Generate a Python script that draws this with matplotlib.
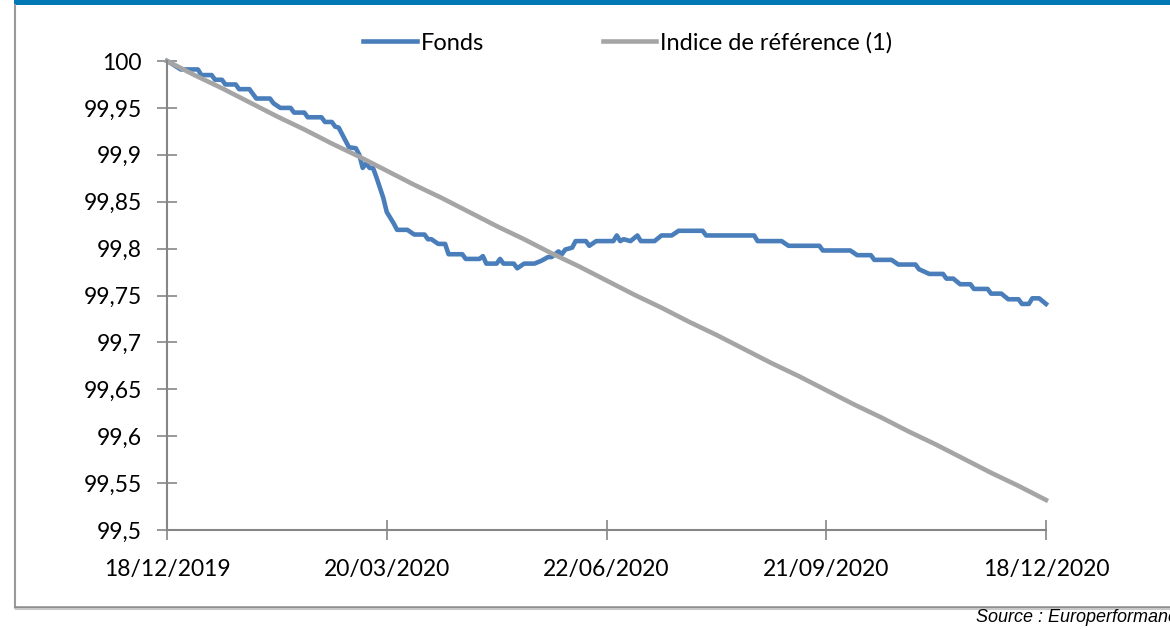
#!/usr/bin/env python3
import matplotlib
matplotlib.use('Agg')
import matplotlib.pyplot as plt
from matplotlib.lines import Line2D
from matplotlib.patches import Rectangle

# Fund (trading-day index, value) breakpoints
fund_idx = [0, 1, 4, 9, 10, 13, 14, 16, 17, 20, 21, 24, 25, 26, 30, 31, 33, 36,
            37, 40, 41, 45, 46, 48, 49, 50, 53, 55, 56, 57, 58, 59, 60, 61, 63,
            64, 66, 67, 70, 72, 75, 76, 77, 79, 81, 82, 86, 87, 91, 92, 93, 96,
            97, 98, 101, 102, 104, 107, 109, 111, 112, 114, 115, 116, 118, 119,
            122, 123, 125, 130, 131, 132, 133, 135, 137, 138, 142, 144, 147, 149,
            156, 157, 171, 172, 179, 181, 190, 191, 199, 201, 205, 206, 211, 213,
            218, 219, 222, 226, 227, 229, 231, 234, 235, 239, 240, 243, 245, 248,
            249, 251, 252, 254, 256]
fund_val = [100.000, 99.998, 99.991, 99.991, 99.985, 99.985, 99.980, 99.980,
            99.975, 99.975, 99.970, 99.970, 99.965, 99.960, 99.960, 99.955,
            99.950, 99.950, 99.945, 99.945, 99.940, 99.940, 99.935, 99.935,
            99.930, 99.929, 99.908, 99.907, 99.900, 99.886, 99.891, 99.886,
            99.886, 99.876, 99.854, 99.839, 99.827, 99.820, 99.820, 99.815,
            99.815, 99.810, 99.810, 99.805, 99.805, 99.794, 99.794, 99.789,
            99.789, 99.792, 99.784, 99.784, 99.789, 99.784, 99.784, 99.779,
            99.784, 99.784, 99.787, 99.791, 99.791, 99.797, 99.794, 99.799,
            99.801, 99.808, 99.808, 99.803, 99.808, 99.808, 99.814, 99.808,
            99.810, 99.808, 99.814, 99.808, 99.808, 99.814, 99.814, 99.819,
            99.819, 99.814, 99.814, 99.808, 99.808, 99.803, 99.803, 99.798,
            99.798, 99.793, 99.793, 99.788, 99.788, 99.783, 99.783, 99.778,
            99.773, 99.773, 99.768, 99.768, 99.762, 99.762, 99.757, 99.757,
            99.752, 99.752, 99.746, 99.746, 99.741, 99.741, 99.747, 99.747,
            99.741]

# Benchmark, one reading every 8 trading days
ref_idx = list(range(0, 257, 8))
ref_val = [100.000, 99.985, 99.971, 99.956, 99.941, 99.927, 99.912, 99.898,
           99.883, 99.868, 99.854, 99.839, 99.824, 99.810, 99.795, 99.781,
           99.766, 99.751, 99.737, 99.722, 99.708, 99.693, 99.678, 99.664,
           99.649, 99.634, 99.620, 99.605, 99.591, 99.576, 99.561, 99.547,
           99.532]

x_ticks = [0, 64, 128, 192, 256]
x_labels = ['18/12/2019', '20/03/2020', '22/06/2020', '21/09/2020', '18/12/2020']
y_ticks = [99.5, 99.55, 99.6, 99.65, 99.7, 99.75, 99.8, 99.85, 99.9, 99.95, 100]
y_labels = ['99,5', '99,55', '99,6', '99,65', '99,7', '99,75', '99,8', '99,85',
            '99,9', '99,95', '100']

assert len(fund_idx) == len(fund_val)
assert len(ref_idx) == len(ref_val)

plt.rcParams['font.family'] = ['Lato', 'DejaVu Sans']

W, H = 1170, 630
fig = plt.figure(figsize=(W / 100, H / 100), dpi=100)
ax = fig.add_axes([167 / W, 1 - 530 / H, (1046 - 167) / W, (530 - 61) / H])

ax.plot(fund_idx, fund_val, color='#4A7EBB', lw=3.3, label='Fonds',
        solid_joinstyle='round', clip_on=False)
ax.plot(ref_idx, ref_val, color='#A5A5A5', lw=3.3, label='Indice de référence (1)',
        solid_joinstyle='round', clip_on=False)

ax.set_xlim(0, 256)
ax.set_ylim(99.5, 100)
ax.set_xticks(x_ticks)
ax.set_xticklabels(x_labels)
ax.set_yticks(y_ticks)
ax.set_yticklabels(y_labels)

for side in ['top', 'right']:
    ax.spines[side].set_visible(False)
for side in ['left', 'bottom']:
    ax.spines[side].set_color('#868686')
    ax.spines[side].set_linewidth(1.5)

ax.tick_params(direction='inout', length=14, width=1.2, color='#868686',
               labelsize=16.5, labelcolor='black')
ax.tick_params(axis='x', pad=14)
ax.tick_params(axis='y', pad=11)

ax.legend(loc='center', bbox_to_anchor=(628 / W, 1 - 43 / H),
          bbox_transform=fig.transFigure, ncol=2, frameon=False,
          handlelength=2.25, handletextpad=0.2, columnspacing=5.0, fontsize=17,
          borderpad=0, borderaxespad=0)

# frame decorations of the original document
fig.add_artist(Rectangle((13.5 / W, 1 - 5 / H), 1, 5 / H, color='#0078B4',
                         transform=fig.transFigure, lw=0))
fig.add_artist(Line2D([15 / W, 15 / W], [1 - 5 / H, 1 - 607 / H],
                      color='#9A9A9A', lw=1.5, transform=fig.transFigure))
fig.add_artist(Line2D([15 / W, 1], [1 - 606.5 / H, 1 - 606.5 / H],
                      color='#8C8C8C', lw=1.8, transform=fig.transFigure))
fig.add_artist(Line2D([16 / W, 1], [1 - 608.5 / H, 1 - 608.5 / H],
                      color='#C8C8C8', lw=1.5, transform=fig.transFigure))

fig.text(976 / W, 1 - 618 / H, 'Source : Europerformance', fontstyle='italic',
         family=['Liberation Sans', 'DejaVu Sans'], fontsize=13,
         ha='left', va='center')

fig.savefig('out.png', dpi=100)
